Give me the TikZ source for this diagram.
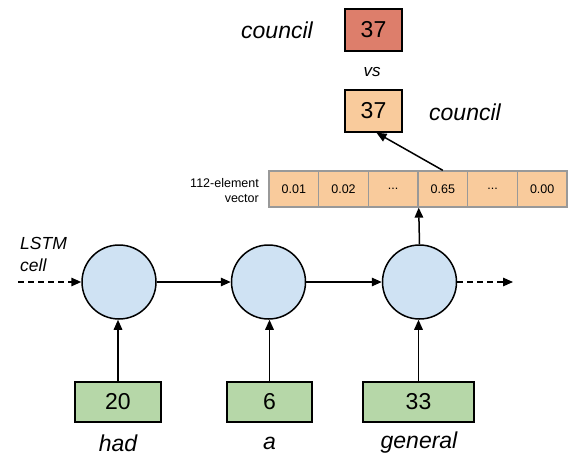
\documentclass[tikz,border=0pt]{standalone}
\usepackage{fontspec}
\setmainfont{Liberation Sans}
\usetikzlibrary{arrows.meta}
\definecolor{cellblue}{HTML}{CFE2F3}
\definecolor{boxgreen}{HTML}{B6D7A8}
\definecolor{boxorange}{HTML}{F9CB9C}
\definecolor{boxred}{HTML}{DD7E6B}
\definecolor{gridgrey}{HTML}{999999}
\tikzset{
  arr/.style={line width=1.5pt,-{Triangle[length=10pt,width=8.5pt]}},
  dasharr/.style={arr,dash pattern=on 6pt off 4pt},
  cellnode/.style={circle,draw,line width=1.5pt,fill=cellblue,minimum size=74pt,inner sep=0pt},
  wordbox/.style={draw,line width=1.5pt,fill=boxgreen,minimum height=40pt,inner sep=0pt,font=\fontsize{23}{26}\selectfont},
  outbox/.style={draw,line width=1.5pt,minimum width=57pt,minimum height=42pt,inner sep=0pt,font=\fontsize{23}{26}\selectfont},
  veccell/.style={draw=gridgrey,line width=1.3pt,fill=boxorange,minimum width=49.67pt,minimum height=36pt,inner sep=0pt,font=\fontsize{12.5}{14}\selectfont},
  word/.style={font=\fontsize{23}{26}\selectfont\itshape},
}
\begin{document}
\begin{tikzpicture}[x=1pt,y=-1pt]
\useasboundingbox (0,0) rectangle (577,462);
% top comparison
\node[outbox,fill=boxred] (r37) at (373.5,30) {37};
\node[word] (wtop) at (277,30) {council};
\node[font=\fontsize{17}{20}\selectfont\itshape] (vs) at (372,72) {vs};
\node[outbox,fill=boxorange] (o37) at (373.5,111) {37};
\node[word] (wright) at (465,112) {council};
% vector
\node[veccell] (v1) at (293.8,189) {0.01};
\node[veccell] (v2) at (343.5,189) {0.02};
\node[veccell] (v3) at (393.2,189) {...};
\node[veccell] (v4) at (442.8,189) {0.65};
\node[veccell] (v5) at (492.5,189) {...};
\node[veccell] (v6) at (542.2,189) {0.00};
\node[anchor=east,align=right,font=\fontsize{12.5}{15}\selectfont,inner sep=0pt] (vlab) at (259,190.5) {112-element\\vector};
% LSTM cells
\node[cellnode] (c1) at (119,282) {};
\node[cellnode] (c2) at (268.5,282) {};
\node[cellnode] (c3) at (419.5,282) {};
\node[anchor=west,align=left,font=\fontsize{17.5}{22}\selectfont\itshape,inner sep=0pt] (lstm) at (20,254) {LSTM\\cell};
% input words
\node[wordbox,minimum width=86pt] (g1) at (118,402) {20};
\node[wordbox,minimum width=85pt] (g2) at (269.5,402) {6};
\node[wordbox,minimum width=111pt] (g3) at (418.5,402) {33};
\node[word] (w1) at (118,443) {had};
\node[word] (w2) at (269.5,443) {a};
\node[word] (w3) at (419,443) {general};
% connectors
\coordinate (inL) at (18,282);
\coordinate (outR) at (513,282);
\draw[dasharr] (inL) -- (c1.west);
\draw[arr] (c1.east) -- (c2.west);
\draw[arr] (c2.east) -- (c3.west);
\draw[dasharr] (c3.east) -- (outR);
\draw[arr] (g1.north) -- (g1.north |- c1.south);
\draw[arr] (g2.north) -- (g2.north |- c2.south);
\draw[arr] (g3.north) -- (g3.north |- c3.south);
\draw[arr] (c3.north) -- (v3.south east);
\draw[arr] (v4.north) -- ([xshift=3pt]o37.south);
\end{tikzpicture}
\end{document}
